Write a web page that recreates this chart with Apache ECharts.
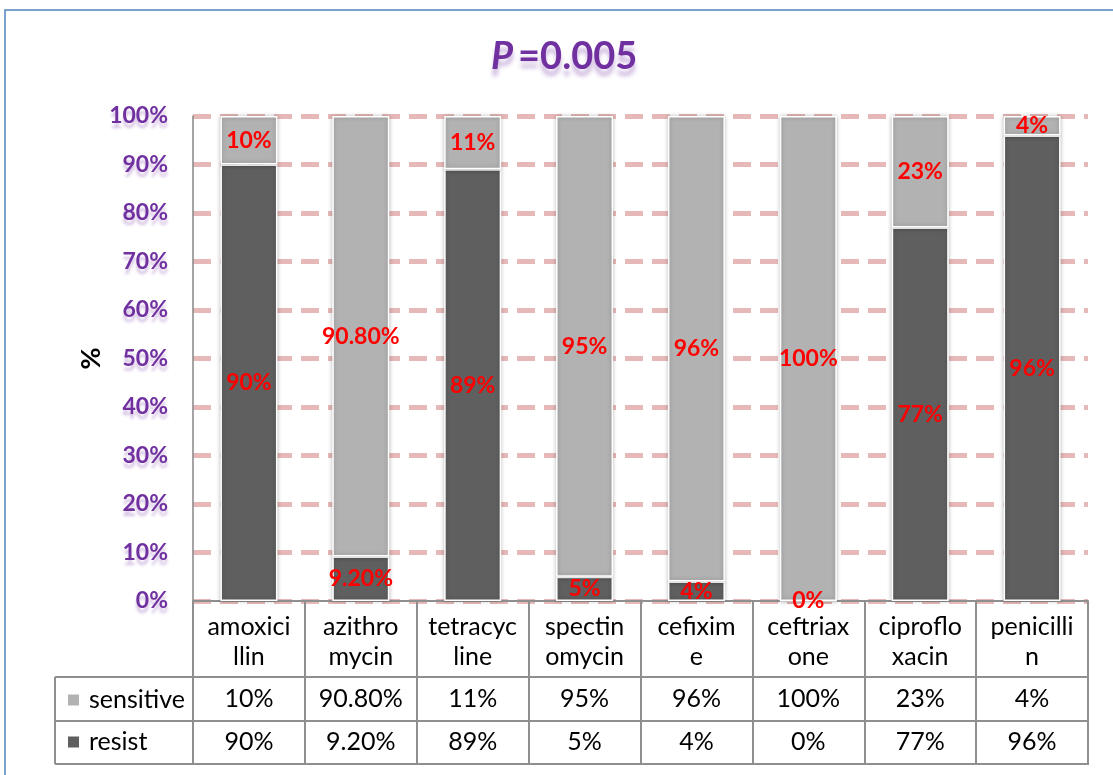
<!DOCTYPE html>
<html>
<head>
<meta charset="utf-8">
<script src="https://cdn.jsdelivr.net/npm/echarts@6/dist/echarts.min.js"></script>
<style>
  html, body { margin: 0; padding: 0; background: #fff; }
  #chart { width: 1113px; height: 775px; }
</style>
</head>
<body>
<div id="chart"></div>
<script>
// Antibiotic susceptibility (%) per drug
const categories = ['amoxicillin', 'azithromycin', 'tetracycline', 'spectinomycin', 'cefixime', 'ceftriaxone', 'ciprofloxacin', 'penicillin'];
const tableLabels = ['amoxici\nllin', 'azithro\nmycin', 'tetracyc\nline', 'spectin\nomycin', 'cefixim\ne', 'ceftriax\none', 'ciproflo\nxacin', 'penicilli\nn'];
const sensitive = [10, 90.8, 11, 95, 96, 100, 23, 4];
const resist = [90, 9.2, 89, 5, 4, 0, 77, 96];
const yTicks = [0, 10, 20, 30, 40, 50, 60, 70, 80, 90, 100];

const fmt = v => (Number.isInteger(v) ? v : v.toFixed(2)) + '%';

// plot area geometry
const G = { left: 193, right: 25, top: 116, bottom: 174 };
const W = 1113, H = 775;
const plotRight = W - G.right;
const plotBottom = H - G.bottom;
const rowY = [plotBottom + 76, plotBottom + 120, plotBottom + 163];
const tableLeft = 55;
const gridLine = '#8f8f8f';
const FONT = 'Lato, "Noto Sans", sans-serif';
const TABLE_FS = 25;

const chart = echarts.init(document.getElementById('chart'), null, { renderer: 'canvas' });

const labelStyle = {
  show: true,
  position: 'inside',
  color: '#ff0000',
  fontWeight: 'bold',
  fontSize: 23,
  fontFamily: FONT,
  formatter: p => fmt(p.value)
};

const titleGlow = { textShadowColor: 'rgba(112,48,160,0.35)', textShadowBlur: 4, textShadowOffsetY: 7 };

const option = {
  backgroundColor: '#fff',
  animation: false,
  title: {
    text: '{i|P} {n|=0.005}',
    left: 486,
    top: 33,
    textStyle: {
      rich: {
        i: Object.assign({ fontSize: 38, fontWeight: 'bold', fontStyle: 'italic', color: '#7030a0', fontFamily: FONT }, titleGlow),
        n: Object.assign({ fontSize: 38, fontWeight: 'bold', color: '#7030a0', fontFamily: FONT }, titleGlow)
      }
    }
  },
  legend: {
    orient: 'vertical',
    left: 61,
    top: 681,
    itemWidth: 13,
    itemHeight: 13,
    itemGap: 14,
    icon: 'rect',
    data: ['sensitive', 'resist'],
    textStyle: { fontSize: TABLE_FS, lineHeight: 28, color: '#000', fontFamily: FONT, padding: [0, 0, 0, 4] }
  },
  grid: { left: G.left, right: G.right, top: G.top, bottom: G.bottom },
  xAxis: [
    {
      type: 'category',
      data: categories,
      position: 'bottom',
      axisLine: { show: true, lineStyle: { color: gridLine, width: 2 } },
      axisTick: { show: true, length: 163, lineStyle: { color: gridLine, width: 2 } },
      axisLabel: {
        interval: 0, margin: 11, fontSize: TABLE_FS, lineHeight: 30, color: '#000', fontFamily: FONT,
        formatter: (v, i) => tableLabels[i]
      },
      splitLine: { show: false }
    },
    {
      type: 'category',
      data: categories,
      position: 'bottom',
      offset: 76,
      axisLine: { show: false },
      axisTick: { show: false },
      axisLabel: {
        interval: 0, margin: 8, fontSize: TABLE_FS, lineHeight: 28, color: '#000', fontFamily: FONT,
        formatter: (v, i) => fmt(sensitive[i])
      }
    },
    {
      type: 'category',
      data: categories,
      position: 'bottom',
      offset: 120,
      axisLine: { show: false },
      axisTick: { show: false },
      axisLabel: {
        interval: 0, margin: 7, fontSize: TABLE_FS, lineHeight: 28, color: '#000', fontFamily: FONT,
        formatter: (v, i) => fmt(resist[i])
      }
    }
  ],
  yAxis: {
    type: 'value',
    min: yTicks[0],
    max: yTicks[yTicks.length - 1],
    interval: 10,
    name: '%',
    nameLocation: 'middle',
    nameGap: 88,
    nameMoveOverlap: false,
    nameTextStyle: { fontSize: 27, fontWeight: 'bold', color: '#000', fontFamily: FONT },
    axisLine: { show: true, lineStyle: { color: '#868686', width: 1.5 } },
    axisTick: { show: false },
    axisLabel: {
      margin: 25,
      fontSize: 23,
      fontWeight: 'bold',
      color: '#7030a0',
      fontFamily: FONT,
      textShadowColor: 'rgba(112,48,160,0.3)',
      textShadowBlur: 3,
      textShadowOffsetY: 5,
      formatter: v => v + '%'
    },
    splitLine: {
      show: true,
      lineStyle: { color: '#e6b9b8', width: 5, type: [18, 9] }
    }
  },
  series: [
    {
      name: 'resist',
      type: 'bar',
      stack: 'total',
      data: resist,
      barWidth: 57,
      itemStyle: { color: '#5f5f5f', borderColor: '#ffffff', borderWidth: 1.5,
                   shadowColor: 'rgba(0,0,0,0.25)', shadowBlur: 4 },
      label: labelStyle,
      z: 3
    },
    {
      name: 'sensitive',
      type: 'bar',
      stack: 'total',
      data: sensitive,
      barWidth: 57,
      itemStyle: { color: '#b2b2b2', borderColor: '#ffffff', borderWidth: 1.5,
                   shadowColor: 'rgba(0,0,0,0.25)', shadowBlur: 4 },
      label: labelStyle,
      z: 3
    }
  ],
  graphic: [
    // outer frame
    { type: 'rect', shape: { x: 5, y: 10, width: 1200, height: 900 }, style: { fill: 'none', stroke: '#4f81bd', lineWidth: 1.5 }, silent: true },
    // data table rules
    ...rowY.map(y => ({ type: 'line', shape: { x1: tableLeft, y1: y, x2: plotRight + 1, y2: y }, style: { stroke: gridLine, lineWidth: 2 }, silent: true })),
    { type: 'line', shape: { x1: tableLeft, y1: rowY[0], x2: tableLeft, y2: rowY[2] }, style: { stroke: gridLine, lineWidth: 2 }, silent: true }
  ]
};

chart.setOption(option);
</script>
</body>
</html>
